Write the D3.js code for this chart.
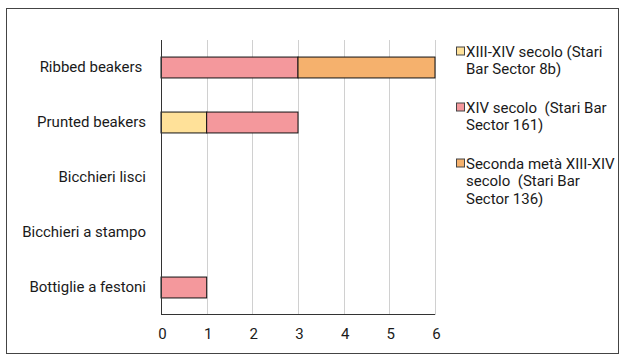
<!DOCTYPE html>
<html><head><meta charset="utf-8">
<script src="https://cdn.jsdelivr.net/npm/d3@7"></script>
<style>body{margin:0;background:#fff;font-family:Roboto,sans-serif;} text{white-space:pre;}</style>
</head><body><svg id="c" width="624" height="361"></svg>
<script>
const categories = ["Ribbed beakers ", "Prunted beakers", "Bicchieri lisci", "Bicchieri a stampo", "Bottiglie a festoni"];
const seriesNames = [["XIII-XIV secolo (Stari", "Bar Sector 8b)"], ["XIV secolo  (Stari Bar", "Sector 161)"], ["Seconda metà XIII-XIV", "secolo  (Stari Bar", "Sector 136)"]];
const s1 = [0, 1, 0, 0, 0];
const s2 = [3, 2, 0, 0, 1];
const s3 = [3, 0, 0, 0, 0];
const colors = ["#FFE199", "#F4989C", "#F5B16D"];
const ticks = [0, 1, 2, 3, 4, 5, 6];

const svg = d3.select("#c");
svg.append("rect").attr("x", 6.5).attr("y", 8.5).attr("width", 612).attr("height", 345)
  .attr("fill", "#fff").attr("stroke", "#444").attr("stroke-width", 1);

const x = d3.scaleLinear().domain([0, 6]).range([161, 435]);
const y = d3.scaleBand().domain(categories).range([40, 315]).paddingInner(0.62).paddingOuter(0.31);

const g = svg.append("g");
g.selectAll("line.grid").data(ticks.slice(1)).join("line")
  .attr("x1", d => Math.round(x(d)) + 0.5).attr("x2", d => Math.round(x(d)) + 0.5)
  .attr("y1", 40).attr("y2", 315).attr("stroke", "#d0d0d0").attr("stroke-width", 1);

const data = categories.map((c, i) => ({cat: c, v: [s1[i], s2[i], s3[i]]}));
const stack = d3.stack().keys([0, 1, 2]).value((d, k) => d.v[k]);
const layers = stack(data);
layers.forEach((layer, k) => {
  g.selectAll(null).data(layer.filter(d => d[1] - d[0] > 0)).join("rect")
    .attr("x", d => x(d[0])).attr("width", d => x(d[1]) - x(d[0]))
    .attr("y", d => y(d.data.cat)).attr("height", y.bandwidth())
    .attr("fill", colors[k]).attr("stroke", "#111").attr("stroke-width", 1);
});

g.append("line").attr("x1", 161.5).attr("x2", 161.5).attr("y1", 40).attr("y2", 315).attr("stroke", "#333");
g.append("line").attr("x1", 161).attr("x2", 435).attr("y1", 314.5).attr("y2", 314.5).attr("stroke", "#333");

const xAxis = d3.axisBottom(x).tickValues(ticks).tickFormat(d3.format("d")).tickSize(0).tickPadding(0);
const ax = g.append("g").attr("transform", "translate(1,328)").call(xAxis);
ax.select(".domain").remove();
ax.selectAll("text").attr("font-family", "Roboto").attr("font-size", 15).attr("fill", "#1a1a1a").attr("dy", "0.71em");

const yAxis = d3.axisLeft(y).tickSize(0).tickPadding(0);
const ay = g.append("g").attr("transform", "translate(146,0)").call(yAxis);
ay.select(".domain").remove();
ay.selectAll("text").attr("font-family", "Roboto").attr("font-size", 15).attr("fill", "#1a1a1a");

const leg = svg.append("g");
const legY = [51.5, 107.5, 163.5];
seriesNames.forEach((lines, k) => {
  leg.append("rect").attr("x", 456.5).attr("y", legY[k] - 4.5).attr("width", 8).attr("height", 8)
    .attr("fill", colors[k]).attr("stroke", "#444").attr("stroke-width", 1);
  const t = leg.append("text").attr("x", 466).attr("y", legY[k])
    .attr("font-family", "Roboto").attr("font-size", 15).attr("fill", "#1a1a1a");
  lines.forEach((l, j) => t.append("tspan").attr("x", 466).attr("dy", j === 0 ? "0.35em" : 17.5).text(l));
});
</script></body></html>
